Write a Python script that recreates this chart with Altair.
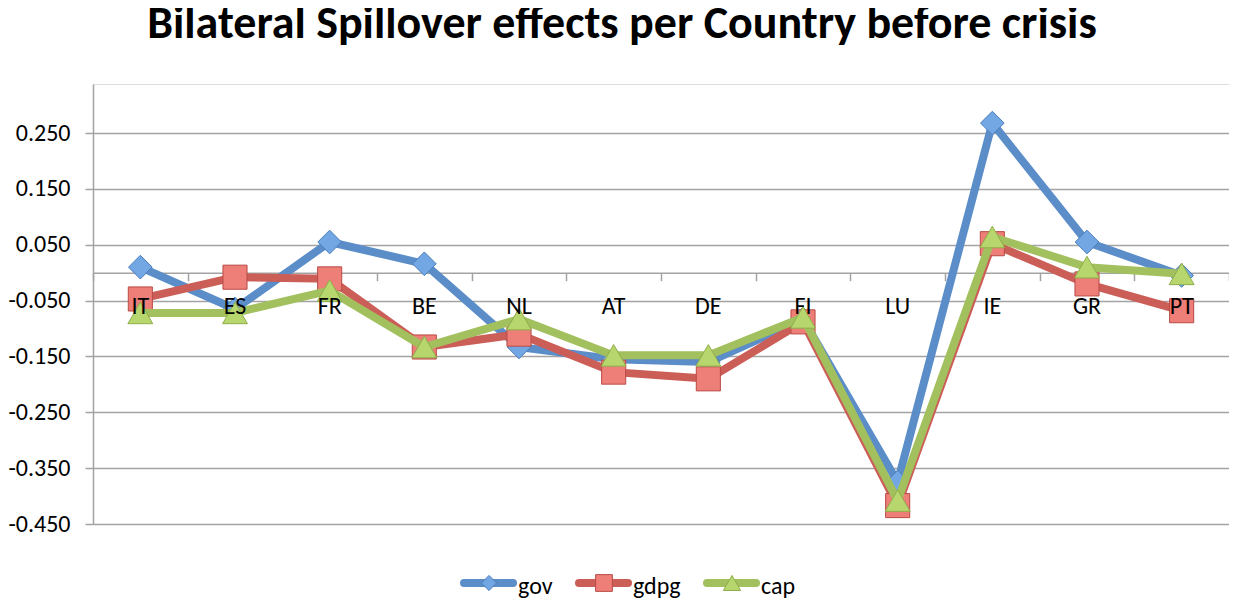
import altair as alt
import pandas as pd

# ---- data ----
countries = ["IT", "ES", "FR", "BE", "NL", "AT", "DE", "FI", "LU", "IE", "GR", "PT"]
gov = [0.010, -0.065, 0.055, 0.016, -0.133, -0.155, -0.160, -0.083, -0.375, 0.268, 0.055, -0.005]
gdpg = [-0.047, -0.008, -0.011, -0.133, -0.110, -0.178, -0.190, -0.088, -0.417, 0.052, -0.020, -0.068]
cap = [-0.072, -0.072, -0.032, -0.133, -0.083, -0.148, -0.148, -0.080, -0.408, 0.064, 0.010, -0.002]
series_names = ["gov", "gdpg", "cap"]
y_ticks = [-0.45, -0.35, -0.25, -0.15, -0.05, 0.05, 0.15, 0.25]
title_text = ["Bilateral Spillover effects per Country before crisis"]

# ---- styling ----
line_colors = ["#5B8DC8", "#CC5E58", "#A2C05E"]
fill_colors = ["#72A7E4", "#EE7E78", "#B7D66E"]
edge_colors = ["#4A7DBA", "#B94A45", "#8FAE4A"]
shapes = ["diamond", "square", "triangle-up"]
marker_sizes = [560, 580, 620]
legend_marker_sizes = [230, 280, 300]

FONT = "Carlito, Calibri, Liberation Sans"
GRID = "#A3A3A3"

W, H = 1136, 440
Y_MIN, Y_MAX = -0.45, 0.338
zero_px = (Y_MAX - 0) / (Y_MAX - Y_MIN) * H

series_values = {"gov": gov, "gdpg": gdpg, "cap": cap}

x_scale = alt.Scale(type="band", domain=countries, paddingInner=0, paddingOuter=0)
y_scale = alt.Scale(domain=[Y_MIN, Y_MAX], nice=False, zero=False)

x_enc = alt.X(
    "country:N",
    sort=countries,
    bandPosition=0.5,
    scale=x_scale,
    axis=alt.Axis(
        title=None, orient="bottom", offset=-(H - zero_px), grid=False,
        domain=True, domainColor=GRID, domainWidth=1.5,
        ticks=True, tickBand="extent", tickSize=8, tickColor=GRID, tickWidth=1.5,
        labels=False,
    ),
)
y_enc = alt.Y(
    "value:Q",
    scale=y_scale,
    axis=alt.Axis(
        title=None, values=y_ticks,
        labelExpr="(datum.value < 0 ? '-' : '') + format(abs(datum.value), '.3f')",
        grid=True, gridColor=GRID, gridWidth=1.5,
        domain=True, domainColor=GRID, domainWidth=1.5,
        ticks=True, tickSize=8, tickColor=GRID, tickWidth=1.5,
        labelFont=FONT, labelFontSize=24, labelColor="black", labelPadding=15,
    ),
)

layers = []
for i, name in enumerate(series_names):
    d = pd.DataFrame({"country": countries, "value": series_values[name], "series": name})
    base = alt.Chart(d)
    layers.append(
        base.mark_line(color=line_colors[i], strokeWidth=8, strokeCap="round", strokeJoin="round")
        .encode(x=x_enc, y=y_enc)
    )
    layers.append(
        base.mark_point(shape=shapes[i], filled=True, fill=fill_colors[i], stroke=edge_colors[i],
                        strokeWidth=1, opacity=1, size=marker_sizes[i])
        .encode(x=x_enc, y=y_enc)
    )

# ---- category labels drawn on top of the series (as in the reference) ----
cat_df = pd.DataFrame({"country": countries, "value": [0.0] * len(countries)})
layers.append(
    alt.Chart(cat_df)
    .mark_text(baseline="middle", align="center", font=FONT, fontSize=24, color="black", dy=34)
    .encode(x=x_enc, y=y_enc, text="country:N")
)

# ---- legend (drawn below the plot) ----
legend_y = 499
legend_starts = [367, 482, 610]
seg_len = 57
for i, name in enumerate(series_names):
    ld = pd.DataFrame({"series": [name]})
    lb = alt.Chart(ld)
    x0 = legend_starts[i]
    layers.append(
        lb.mark_rule(color=line_colors[i], strokeWidth=8, strokeCap="round")
        .encode(x=alt.value(x0 + 4), x2=alt.value(x0 + seg_len - 4), y=alt.value(legend_y))
    )
    layers.append(
        lb.mark_point(shape=shapes[i], filled=True, fill=fill_colors[i], stroke=edge_colors[i],
                      strokeWidth=1, opacity=1, size=legend_marker_sizes[i])
        .encode(x=alt.value(x0 + 29), y=alt.value(legend_y))
    )
    layers.append(
        lb.mark_text(align="left", baseline="alphabetic", font=FONT, fontSize=24, color="black")
        .encode(x=alt.value(x0 + 58), y=alt.value(legend_y + 11), text="series:N")
    )

# ---- title (text mark above the plot) ----
title_layer = (
    alt.Chart(pd.DataFrame({"t": title_text}))
    .mark_text(align="center", baseline="alphabetic", font=FONT, fontSize=46,
               fontWeight="bold", color="black")
    .encode(x=alt.value(W / 2 - 39), y=alt.value(-46), text="t:N")
)
layers.append(title_layer)

chart = (
    alt.layer(*layers)
    .properties(
        width=W, height=H,
        autosize="none",
        padding={"left": 85, "top": 76, "right": 0, "bottom": 84},
    )
    .configure_view(stroke=None)
    .configure(background="white")
)

chart.save("out.html", embed_options={"renderer": "svg", "actions": False})
